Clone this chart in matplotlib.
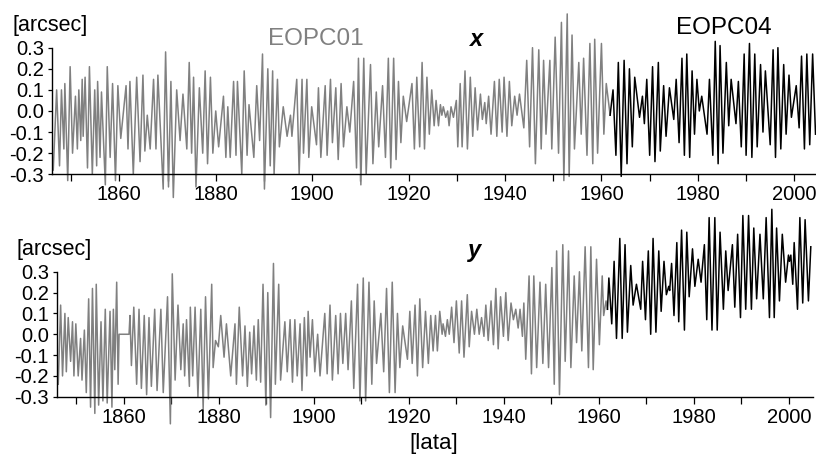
import numpy as np
import matplotlib
matplotlib.use("Agg")
import matplotlib.pyplot as plt
from matplotlib.ticker import MultipleLocator, FormatStrFormatter

plt.rcParams['font.family'] = ['Liberation Sans', 'DejaVu Sans']
plt.rcParams['axes.unicode_minus'] = False

# ---------------- data: x coordinate of the pole [arcsec] ----------------
x_c01_years = [
    1846.3, 1847.0, 1847.6, 1848.0, 1848.5, 1848.7, 1849.3, 1849.8, 1850.3, 1850.9,
    1851.3, 1851.6, 1852.0, 1852.3, 1852.5, 1852.9, 1853.4, 1853.8, 1854.4, 1854.9,
    1855.3, 1855.5, 1856.0, 1856.3, 1857.1, 1857.5, 1858.1, 1858.6, 1859.2, 1859.7,
    1860.3, 1861.4, 1861.8, 1862.2, 1862.9, 1863.6, 1864.3, 1864.9, 1865.3, 1865.8,
    1866.4, 1867.1, 1867.6, 1868.0, 1869.1, 1869.6, 1870.2, 1870.7, 1871.2, 1871.9,
    1872.6, 1873.2, 1874.0, 1874.5, 1875.0, 1875.4, 1875.9,
    1876.6, 1877.3, 1877.8, 1878.3, 1878.9, 1879.4, 1880.0, 1880.6, 1881.6, 1882.1,
    1882.5, 1883.0, 1883.7, 1884.2, 1884.5, 1885.4, 1885.9, 1886.5, 1886.9, 1887.9,
    1888.5, 1889.1, 1889.7, 1890.1, 1890.8, 1891.3, 1891.8, 1892.1, 1892.8, 1893.2,
    1894.0, 1894.8, 1895.5, 1895.8, 1896.8, 1897.3, 1897.9, 1898.2, 1898.9, 1899.3,
    1899.9, 1900.9, 1901.3, 1901.8, 1902.7, 1903.1, 1903.8, 1904.2, 1904.9, 1905.4,
    1906.0, 1906.5, 1907.2, 1907.8, 1908.6, 1909.2, 1909.6, 1910.1, 1910.7, 1911.2,
    1912.1, 1912.6, 1913.3, 1913.8, 1914.6, 1915.2,
    1915.8, 1916.3, 1916.9, 1917.4, 1917.9, 1918.4, 1918.9, 1919.6, 1920.7, 1921.2,
    1921.7, 1922.3, 1922.8, 1923.3, 1923.8, 1924.3, 1924.8, 1925.3, 1925.7, 1926.2,
    1926.6, 1926.9, 1927.2, 1927.7, 1928.1, 1928.4, 1928.8, 1929.3, 1929.9, 1930.2,
    1930.7, 1931.1, 1931.7, 1932.2, 1932.8, 1933.3, 1933.8, 1934.3, 1934.9, 1935.3,
    1935.8, 1936.1, 1936.6, 1937.1, 1937.8, 1938.3, 1938.8, 1939.4, 1939.8, 1940.4,
    1940.9, 1941.4, 1942.0, 1942.5, 1943.0, 1943.9, 1944.5, 1945.1, 1945.7, 1946.3,
    1947.0, 1947.5, 1948.0, 1948.5, 1949.3, 1949.7, 1950.4, 1951.1, 1951.7, 1952.2,
    1952.9, 1953.3, 1953.9, 1954.4, 1955.3, 1955.8, 1956.3, 1957.0, 1957.6, 1958.2,
    1958.6, 1959.2, 1960.0, 1960.5, 1961.0, 1961.8,
]
x_c01_values = [
    -0.28, 0.10, -0.26, 0.10, -0.18, 0.13, -0.33, 0.21, -0.20, 0.07,
    -0.18, 0.10, -0.14, 0.15, -0.12, 0.16, -0.27, 0.21, -0.30, 0.10,
    -0.26, 0.14, -0.22, 0.09, -0.35, 0.21, -0.22, 0.13, -0.33, 0.12,
    -0.13, 0.12, -0.18, 0.14, -0.30, 0.16, -0.24, 0.17, -0.19, -0.02,
    -0.18, 0.15, -0.18, 0.17, -0.37, 0.28, -0.36, 0.14, -0.41, 0.10,
    -0.14, 0.08, -0.18, 0.23, -0.20, 0.16, -0.36,
    0.11, -0.20, 0.19, -0.25, 0.16, -0.20, 0.00, -0.17, 0.07, -0.22,
    0.02, -0.22, 0.14, -0.21, 0.14, -0.30, 0.19, -0.21, 0.03, -0.22,
    0.12, -0.14, 0.27, -0.37, 0.20, -0.26, 0.19, -0.30, 0.15, -0.17,
    0.02, -0.12, -0.02, -0.12, 0.15, -0.30, 0.15, -0.20, 0.15, -0.22,
    0.02, -0.16, 0.11, -0.22, 0.12, -0.21, 0.15, -0.15, 0.11, -0.23,
    0.13, -0.17, 0.02, -0.10, 0.14, -0.27, 0.25, -0.35, 0.25, -0.30,
    0.22, -0.25, 0.09, -0.17, 0.12, -0.22,
    0.25, -0.27, 0.25, -0.23, 0.14, -0.15, 0.07, -0.05, 0.13, -0.18,
    0.16, -0.17, 0.23, -0.18, 0.16, -0.11, 0.10, -0.07, 0.05, -0.07,
    0.03, -0.02, 0.02, -0.03, 0.00, -0.07, 0.02, -0.03, 0.05, -0.17,
    0.13, -0.17, 0.19, -0.18, 0.16, -0.12, 0.11, -0.09, 0.08, -0.04,
    0.04, -0.06, 0.07, -0.11, 0.14, -0.12, 0.15, -0.10, 0.16, -0.12,
    0.14, -0.07, 0.07, -0.02, 0.08, -0.08, 0.24, -0.17, 0.30, -0.25,
    0.29, -0.18, 0.24, -0.11, 0.24, -0.18, 0.35, -0.20, 0.42, -0.33,
    0.46, -0.31, 0.36, -0.18, 0.23, -0.11, 0.25, -0.21, 0.32, -0.25,
    0.34, -0.20, 0.32, -0.11, 0.13, -0.02,
]

x_c04_years = [
    1961.8, 1962.4, 1963.0, 1963.5, 1964.1, 1964.7, 1965.3, 1965.8, 1966.4, 1966.9,
    1967.9, 1968.5, 1968.9, 1969.4, 1970.0, 1970.6, 1971.1, 1971.8, 1972.2, 1972.9,
    1973.4, 1974.1, 1975.0, 1975.5, 1976.1, 1976.7, 1977.2, 1977.7, 1978.3, 1978.8,
    1979.3, 1979.8, 1980.3, 1980.8, 1981.9, 1982.4, 1983.1, 1983.6, 1984.2, 1984.6,
    1985.2, 1985.9, 1986.4, 1986.9, 1987.9, 1988.4, 1989.0, 1989.6, 1990.0, 1990.7,
    1991.2, 1991.8, 1992.3, 1993.0, 1993.5, 1994.0, 1995.0, 1995.6, 1996.1, 1996.6,
    1997.2, 1997.8, 1998.3, 1998.9, 1999.4, 2000.4, 2001.0, 2001.5, 2002.1, 2002.6,
    2003.2, 2003.8, 2004.4,
]
x_c04_values = [
    -0.02, 0.10, -0.21, 0.23, -0.31, 0.24, -0.25, 0.20, -0.17, 0.16,
    -0.03, 0.07, -0.06, 0.15, -0.21, 0.21, -0.24, 0.23, -0.19, 0.12,
    -0.12, 0.11, -0.04, 0.15, -0.15, 0.25, -0.21, 0.27, -0.22, 0.19,
    -0.11, 0.15, 0.00, 0.07, -0.11, 0.15, -0.21, 0.33, -0.25, 0.31,
    -0.20, 0.23, -0.07, 0.15, -0.06, 0.14, -0.17, 0.27, -0.21, 0.32,
    -0.22, 0.27, -0.17, 0.22, -0.10, 0.19, -0.16, 0.29, -0.22, 0.30,
    -0.18, 0.22, -0.11, 0.17, -0.03, 0.12, -0.08, 0.26, -0.18, 0.27,
    -0.16, 0.27, -0.11,
]

# ---------------- data: y coordinate of the pole [arcsec] ----------------
y_c01_years = [
    1846.2, 1846.7, 1847.1, 1847.6, 1847.9, 1848.3, 1848.8, 1849.2, 1849.5, 1849.9,
    1850.4, 1850.9, 1851.2, 1851.7, 1852.1, 1852.6, 1853.0, 1853.4, 1853.9, 1854.2,
    1854.7, 1855.2, 1855.6, 1856.1, 1856.5, 1857.1, 1857.5, 1857.8, 1858.1, 1858.5,
    1858.8, 1859.0, 1861.1, 1861.3, 1861.6, 1862.1, 1862.7, 1863.2, 1863.7, 1864.3,
    1864.8, 1865.3, 1865.8, 1866.5, 1867.0, 1867.8, 1868.3, 1869.2, 1869.8, 1870.2,
    1870.8, 1871.4, 1872.0, 1872.5, 1872.8, 1873.2, 1873.8, 1874.0, 1874.5, 1875.0,
    1875.6,
    1876.2, 1876.7, 1877.2, 1877.8, 1878.5, 1878.8, 1879.3, 1879.9, 1880.4, 1881.1,
    1881.6, 1882.5, 1883.4, 1883.7, 1884.3, 1885.0, 1885.5, 1886.0, 1886.5, 1886.9,
    1887.4, 1887.9, 1888.3, 1888.8, 1889.3, 1889.9, 1890.3, 1890.9, 1891.5, 1891.9,
    1892.6, 1893.0, 1893.9, 1894.4, 1895.0, 1895.5, 1896.0, 1896.5, 1897.1, 1897.5,
    1898.0, 1898.5, 1898.8, 1899.2, 1899.7, 1900.2, 1900.8, 1901.3, 1902.3, 1902.8,
    1903.4, 1903.9, 1904.6, 1905.1, 1905.6, 1906.1, 1906.7, 1907.2, 1907.9, 1908.4,
    1909.2, 1909.7, 1910.4, 1910.9, 1911.6, 1912.2, 1912.7, 1913.2, 1914.1, 1914.7,
    1915.3, 1915.9, 1916.5, 1917.1, 1917.6, 1918.1, 1918.7, 1919.7, 1920.2, 1920.7,
    1921.3, 1921.8, 1922.3, 1922.9, 1923.5, 1924.1, 1924.6, 1925.1, 1925.6, 1926.0,
    1926.5, 1927.0, 1927.2, 1927.7, 1928.1, 1928.5, 1929.0, 1929.5, 1930.0, 1930.6,
    1931.1, 1931.6, 1932.3, 1932.7, 1933.2, 1933.8, 1934.3, 1934.8, 1935.3, 1935.8,
    1936.2, 1936.7, 1937.3, 1937.8, 1938.3, 1938.8, 1939.3, 1939.9, 1940.4, 1940.9,
    1941.5, 1942.0, 1942.5, 1943.0, 1943.4, 1943.9, 1944.2, 1944.6, 1945.3, 1945.8,
    1946.3, 1946.9, 1947.6, 1948.2, 1948.8, 1949.4, 1950.1, 1950.6, 1951.1, 1951.7,
    1952.4, 1952.9, 1953.6, 1954.1, 1954.8, 1955.3, 1955.9, 1956.4, 1957.1, 1957.8,
    1958.3, 1958.8, 1959.5, 1960.1, 1960.7, 1961.0, 1961.5, 1961.8,
]
y_c01_values = [
    -0.24, 0.14, -0.20, 0.10, -0.18, 0.08, -0.13, 0.06, -0.20, 0.05,
    -0.20, -0.02, -0.22, 0.02, -0.28, 0.17, -0.35, 0.22, -0.38, 0.24,
    -0.34, 0.06, -0.32, 0.12, -0.33, 0.11, -0.35, 0.12, -0.17, 0.25,
    -0.24, 0.00, 0.00, 0.09, -0.15, 0.13, -0.24, 0.12, -0.26, 0.09,
    -0.29, 0.08, -0.25, 0.12, -0.27, 0.12, -0.28, 0.18, -0.43, 0.29,
    -0.22, 0.14, -0.17, 0.05, -0.20, 0.07, -0.25, 0.13, -0.20, 0.13,
    -0.30,
    0.12, -0.36, 0.18, -0.31, 0.24, -0.16, -0.03, -0.06, 0.09, -0.11,
    0.05, -0.20, 0.05, -0.24, 0.13, -0.20, 0.04, -0.25, 0.01, -0.19,
    0.04, -0.22, 0.07, -0.23, 0.24, -0.34, 0.20, -0.40, 0.34, -0.24,
    0.24, -0.22, 0.06, -0.18, 0.07, -0.23, 0.07, -0.20, 0.05, -0.27,
    0.08, -0.20, 0.11, -0.11, 0.07, -0.18, 0.00, -0.20, 0.10, -0.19,
    0.14, -0.22, 0.09, -0.19, 0.10, -0.14, 0.10, -0.17, 0.16, -0.26,
    0.24, -0.32, 0.27, -0.32, 0.25, -0.24, 0.16, -0.14, 0.10, -0.18,
    0.22, -0.28, 0.25, -0.28, 0.10, -0.16, 0.04, -0.12, 0.11, -0.14,
    0.14, -0.20, 0.17, -0.16, 0.11, -0.14, 0.09, -0.08, 0.09, -0.08,
    0.11, 0.00, 0.05, -0.01, 0.07, 0.00, 0.13, -0.04, 0.16, -0.09,
    0.16, -0.11, 0.19, -0.06, 0.11, 0.00, 0.12, 0.00, 0.08, -0.01,
    0.14, -0.03, 0.16, -0.05, 0.22, -0.07, 0.18, -0.01, 0.20, -0.03,
    0.15, 0.07, 0.12, 0.03, 0.12, -0.01, 0.15, -0.12, 0.28, -0.19,
    0.28, -0.16, 0.25, -0.14, 0.24, -0.16, 0.32, -0.24, 0.40, -0.29,
    0.43, -0.13, 0.40, -0.16, 0.28, -0.04, 0.30, -0.08, 0.42, -0.16,
    0.42, -0.17, 0.36, -0.05, 0.28, 0.09, 0.16, 0.12,
]

y_c04_years = [
    1961.8, 1962.1, 1962.7, 1963.2, 1963.7, 1964.4, 1964.9, 1965.5, 1966.0, 1966.7,
    1967.2, 1967.9, 1968.8, 1969.2, 1969.8, 1970.4, 1970.9, 1971.4, 1972.0, 1972.6,
    1973.1, 1973.7, 1974.2, 1974.7, 1974.9, 1975.3, 1975.8, 1976.4, 1976.8, 1977.4,
    1978.0, 1978.5, 1979.0, 1979.7, 1980.2, 1980.9, 1981.5, 1982.2, 1982.7, 1983.2,
    1983.8, 1984.4, 1984.9, 1985.5, 1986.2, 1986.7, 1987.2, 1988.1, 1988.6, 1989.2,
    1989.8, 1990.3, 1990.9, 1991.5, 1992.1, 1992.6, 1993.2, 1993.9, 1994.6, 1995.2,
    1995.9, 1996.4, 1996.9, 1997.4, 1998.0, 1998.6, 1999.3, 1999.9, 2000.1, 2000.4,
    2000.8, 2001.1, 2001.8, 2002.3, 2002.9, 2003.4, 2004.1, 2004.6,
]
y_c04_values = [
    0.12, 0.27, 0.05, 0.35, -0.02, 0.46, -0.02, 0.43, 0.01, 0.33,
    0.14, 0.24, 0.12, 0.35, 0.07, 0.40, 0.00, 0.46, 0.01, 0.40,
    0.11, 0.35, 0.19, 0.23, 0.21, 0.34, 0.09, 0.44, 0.06, 0.50,
    0.02, 0.49, 0.18, 0.41, 0.23, 0.36, 0.25, 0.43, 0.07, 0.56,
    0.02, 0.56, 0.02, 0.49, 0.12, 0.40, 0.21, 0.43, 0.13, 0.48,
    0.08, 0.57, 0.12, 0.57, 0.12, 0.51, 0.17, 0.48, 0.17, 0.56,
    0.08, 0.60, 0.08, 0.51, 0.16, 0.48, 0.25, 0.38, 0.35, 0.38,
    0.24, 0.44, 0.12, 0.56, 0.15, 0.55, 0.16, 0.42,
]

y_ticks = [-0.3, -0.2, -0.1, 0.0, 0.1, 0.2, 0.3]

# ---------------- figure ----------------
W, H = 816, 455
fig = plt.figure(figsize=(W / 100, H / 100), dpi=100)

GRAY = '#808080'


def px_axes(left, right, top, bottom):
    return fig.add_axes([left / W, 1 - bottom / H, (right - left) / W, (bottom - top) / H])


def style(ax, xlim, ylim):
    ax.set_xlim(*xlim)
    ax.set_ylim(*ylim)
    for s in ('top', 'right'):
        ax.spines[s].set_visible(False)
    ax.spines['bottom'].set_position(('data', -0.3))
    ax.spines['left'].set_bounds(-0.3, 0.3)
    for s in ('bottom', 'left'):
        ax.spines[s].set_linewidth(1.0)
    ax.set_yticks(y_ticks)
    ax.yaxis.set_major_formatter(FormatStrFormatter('%.1f'))
    ax.xaxis.set_major_locator(MultipleLocator(20))
    ax.xaxis.set_minor_locator(MultipleLocator(10))
    ax.tick_params(axis='x', which='both', direction='out', length=5, width=0.9,
                   labelsize=14.5, pad=3)
    ax.tick_params(axis='y', which='both', direction='out', length=3, width=0.9,
                   labelsize=14.5, pad=3)
    ax.patch.set_visible(False)


# top panel: x
ax1 = px_axes(52.3, 816, 0, 199.6)
ax1.plot(x_c01_years, x_c01_values, color=GRAY, lw=1.1, clip_on=False)
ax1.plot(x_c04_years, x_c04_values, color='black', lw=1.1, clip_on=False)
style(ax1, (1846.1, 2004.5), (-0.42, 0.526))

# bottom panel: y
ax2 = px_axes(57.3, 812.7, 205.1, 428.0)
ax2.plot(y_c01_years, y_c01_values, color=GRAY, lw=1.1, clip_on=False)
ax2.plot(y_c04_years, y_c04_values, color='black', lw=1.1, clip_on=False)
style(ax2, (1846.0, 2005.0), (-0.45, 0.62))


def ftext(x, y, s, **kw):
    fig.text(x / W, 1 - y / H, s, **kw)


ftext(12, 26, '[arcsec]', fontsize=15.5, ha='left', va='center')
ftext(17, 250, '[arcsec]', fontsize=15.5, ha='left', va='center')
ftext(315.5, 39, 'EOPC01', fontsize=17.5, color=GRAY, ha='center', va='center')
ftext(724, 28.5, 'EOPC04', fontsize=17.5, color='black', ha='center', va='center')
ftext(476, 39, 'x', fontsize=17, fontweight='bold', fontstyle='italic', ha='center', va='center')
ftext(475, 251, 'y', fontsize=17, fontweight='bold', fontstyle='italic', ha='center', va='center')
ftext(434, 444, '[lata]', fontsize=16, ha='center', va='center')

fig.savefig('out.png', dpi=100)
